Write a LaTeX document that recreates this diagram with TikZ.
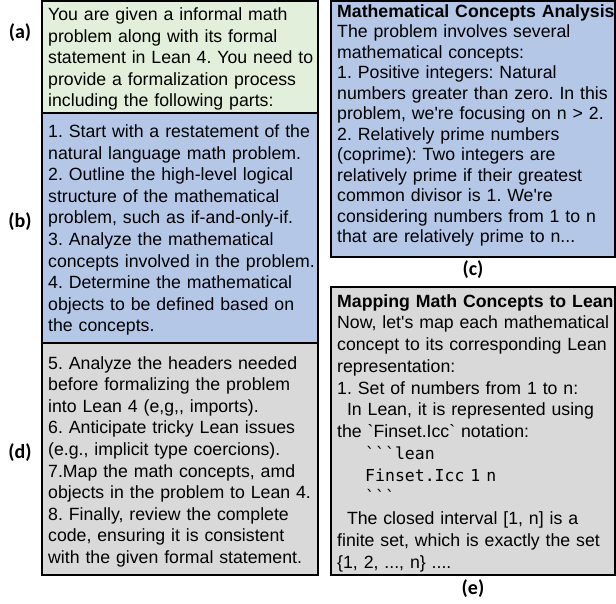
\documentclass[tikz,border=0pt]{standalone}
\usepackage{fontspec}
\setmainfont{Liberation Sans}
\newfontfamily\codefont{DejaVu Sans Mono}
\newfontfamily\labfont{Carlito}
\definecolor{boxgreen}{RGB}{226,239,218}
\definecolor{boxblue}{RGB}{180,199,231}
\definecolor{boxgray}{RGB}{217,217,217}
\tikzset{
  box/.style={draw=black, line width=1.2pt, anchor=north west, inner sep=0pt, outer sep=0pt},
  txt/.style={anchor=base west, inner sep=0pt, text width=300pt, align=left, font=\fontsize{17.7}{21.6}\selectfont},
  lab/.style={font=\labfont\bfseries\fontsize{20}{20}\selectfont, inner sep=0pt},
  code/.style={},
}
\newcommand{\bq}{\textasciigrave}
\newcommand{\cd}[1]{{\codefont\fontsize{16.5}{21.75}\selectfont #1}}
\frenchspacing
\begin{document}
\begin{tikzpicture}[x=1pt,y=-1pt]
\useasboundingbox (0,0) rectangle (616,603);
% left column
\node[box, fill=boxgreen, minimum width=276pt, minimum height=112pt] (boxa) at (42,1) {};
\node[box, fill=boxblue, minimum width=276pt, minimum height=230pt] (boxb) at (42,113) {};
\node[box, fill=boxgray, minimum width=276pt, minimum height=232pt] (boxd) at (42,343) {};
% right column
\node[box, fill=boxblue, minimum width=284pt, minimum height=256pt] (boxc) at (331,1) {};
\node[box, fill=boxgray, minimum width=284pt, minimum height=288pt] (boxe) at (331,287) {};
% texts
\node[txt] (ta) at (48,20.5) {\frenchspacing You are given a informal math\\
problem along with its formal\\
statement in Lean 4. You need to\\
provide a formalization process\\
including the following parts:};
\node[txt] (tb) at (48,137.5) {\frenchspacing 1. Start with a restatement of the\\
natural language math problem.\\
2. Outline the high-level logical\\
structure of the mathematical\\
problem, such as if-and-only-if.\\
3. Analyze the mathematical\\
concepts involved in the problem.\\
4. Determine the mathematical\\
objects to be defined based on\\
the concepts.};
\node[txt] (td) at (48,369) {\frenchspacing 5. Analyze the headers needed\\
before formalizing the problem\\
into Lean 4 (e,g,{}, imports).\\
6. Anticipate tricky Lean issues\\
(e.g., implicit type coercions).\\
7.Map the math concepts, amd\\
objects in the problem to Lean 4.\\
8. Finally, review the complete\\
code, ensuring it is consistent\\
with the given formal statement.};
\node[txt, font=\fontsize{17.7}{20.5}\selectfont] (tc) at (337,17) {\frenchspacing\textbf{Mathematical Concepts Analysis}\\
The problem involves several\\
mathematical concepts:\\
1. Positive integers: Natural\\
numbers greater than zero. In this\\
problem, we\textquotesingle re focusing on n > 2.\\
2. Relatively prime numbers\\
(coprime): Two integers are\\
relatively prime if their greatest\\
common divisor is 1. We\textquotesingle re\\
considering numbers from 1 to n\\
that are relatively prime to n...};
\node[txt, font=\fontsize{17.7}{21.75}\selectfont] (te) at (337,307) {\frenchspacing\textbf{Mapping Math Concepts to Lean}\\
Now, let\textquotesingle s map each mathematical\\
concept to its corresponding Lean\\
representation:\\
1. Set of numbers from 1 to n:\\
\hspace*{9.8pt}In Lean, it is represented using\\
the \bq Finset.Icc\bq\ notation:\\
\hspace*{28pt}\cd{\bq\bq\bq lean}\\
\hspace*{28pt}\cd{Finset.Icc 1 n}\\
\hspace*{28pt}\cd{\bq\bq\bq}\\
\hspace*{9.8pt}The closed interval [1, n] is a\\
finite set, which is exactly the set\\
\{1, 2, ..., n\} ....};
% labels
\node[lab] (la) at (20,33) {(a)};
\node[lab] (lb) at (20,222) {(b)};
\node[lab] (ld) at (20,453) {(d)};
\node[lab] (lc) at (473,270) {(c)};
\node[lab] (le) at (473,589) {(e)};
\end{tikzpicture}
\end{document}
